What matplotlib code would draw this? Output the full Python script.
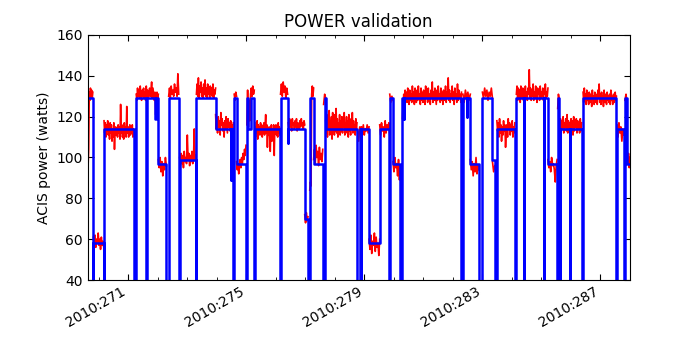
import numpy as np
import matplotlib
matplotlib.use('Agg')
import matplotlib.pyplot as plt
from matplotlib.ticker import FixedLocator, MultipleLocator, FuncFormatter

# model prediction: step levels (watts), each starting at the given day of 2010
model_days = [269.64, 269.80, 269.82, 270.17, 270.18, 271.20, 271.27, 271.61, 271.63,
              271.92, 271.93, 272.02, 272.29, 272.37, 272.71, 272.74, 273.29, 273.31,
              273.96, 274.47, 274.48, 274.56, 274.59, 274.67, 274.99, 275.03, 275.05,
              275.16, 275.27, 275.29, 276.14, 276.16, 276.40, 276.42, 276.98, 277.09,
              277.15, 277.16, 277.28, 277.59, 277.66, 277.69, 278.75, 278.84, 278.88,
              278.90, 279.16, 279.52, 279.85, 279.86, 279.97, 280.22, 280.29, 280.33,
              280.34, 282.29, 282.34, 282.48, 282.49, 282.59, 282.88, 283.00, 283.34,
              283.42, 283.49, 284.10, 284.15, 284.41, 284.42, 285.08, 285.09, 285.22,
              285.53, 285.55, 285.58, 285.62, 285.63, 285.96, 285.97, 286.36, 286.41,
              287.54, 287.56, 287.79, 287.83, 287.90, 288.00]
model_power = [129, 30, 58, 30, 114, 30, 129, 30, 129,
               119, 129, 97, 30, 129, 30, 99, 30, 129,
               114, 89, 114, 30, 129, 97, 30, 129, 114,
               129, 30, 114, 30, 129, 107, 114, 70, 30,
               84, 129, 97, 30, 129, 114, 30, 114, 30,
               114, 58, 114, 30, 129, 97, 30, 129, 119,
               129, 30, 129, 120, 129, 97, 30, 129, 99,
               30, 114, 30, 129, 30, 129, 30, 129, 97,
               30, 129, 114, 30, 114, 30, 114, 30, 129,
               30, 114, 30, 129, 97, 97]

# telemetry: contiguous stretches (start day, end day) and the samples in each
tlm_spans = [(269.64, 269.80), (269.82, 270.17), (270.18, 271.20), (271.27, 272.02),
             (272.02, 272.29), (272.37, 272.71), (272.74, 273.29), (273.31, 273.96),
             (273.96, 274.56), (274.59, 274.67), (274.67, 274.99), (275.02, 275.27),
             (275.29, 276.14), (276.16, 276.40), (276.42, 276.98), (276.98, 277.09),
             (277.15, 277.28), (277.28, 277.59), (277.62, 277.69), (277.69, 278.75),
             (278.77, 278.88), (278.90, 279.16), (279.16, 279.52), (279.52, 279.86),
             (279.86, 279.97), (279.97, 280.22), (280.29, 282.29), (282.34, 282.59),
             (282.59, 282.88), (283.00, 283.34), (283.34, 283.42), (283.49, 284.10),
             (284.15, 285.22), (285.22, 285.53), (285.55, 285.60), (285.60, 286.36),
             (286.41, 287.54), (287.56, 287.79), (287.83, 287.90), (287.90, 288.00)]
tlm_power = [
    [96, 104, 132, 128, 134, 130, 133, 129, 132],
    [61, 57, 62, 56, 60, 58, 63, 57, 60, 55, 61, 57, 59, 56],
    [118, 112, 117, 110, 116, 113, 118, 111, 115, 109, 117, 112, 116, 108, 114, 110,
     117, 104, 113, 115, 111, 114, 110, 116, 112, 115, 109, 126, 112, 116, 110, 114,
     109, 117, 112, 115, 110, 125, 112, 115, 110, 113, 116, 111, 115, 112, 116, 110,
     114, 113],
    [131, 128, 134, 130, 133, 129, 135, 131, 128, 133, 130, 134, 129, 132, 128, 135,
     130, 133, 129, 131, 134, 130, 133, 137, 129, 134, 131, 128, 132, 121, 127, 132,
     129, 131],
    [99, 95, 100, 93, 98, 91, 97, 94, 100, 96],
    [130, 134, 129, 135, 131, 133, 130, 136, 132, 134, 130, 141, 131],
    [100, 96, 102, 97, 101, 95, 103, 98, 100, 97, 111, 99, 102, 96, 101, 98, 103, 97,
     100, 114, 99, 101],
    [131, 136, 130, 139, 129, 135, 132, 137, 130, 134, 129, 136, 131, 138, 130, 134,
     129, 136, 131, 133, 129, 135, 131, 134, 130, 136, 129, 133, 131, 134],
    [121, 114, 119, 112, 120, 115, 118, 111, 122, 116, 119, 113, 117, 110, 118, 114,
     120, 116, 112, 119, 115, 117, 113, 118, 111, 116, 114, 117],
    [131, 128, 132, 130],
    [98, 94, 97, 92, 96, 99, 95, 100, 97, 102, 99, 104, 101, 106],
    [116, 133, 115, 128, 118, 131, 134, 130, 135, 131, 133],
    [117, 110, 115, 112, 118, 109, 116, 113, 115, 111, 117, 112, 116, 110, 114, 112,
     117, 111, 116, 121, 112, 116, 105, 114, 111, 115, 110, 103, 113, 116, 108, 114,
     110, 116, 101, 115, 112, 116, 111, 114, 110, 117, 112, 115, 111],
    [131, 136, 130, 137, 132, 135, 129, 134, 131],
    [117, 114, 119, 115, 118, 113, 119, 116, 117, 114, 118, 115, 119, 113, 117, 116,
     114, 118, 115, 119, 116, 117, 114, 118, 116],
    [72, 68, 73, 69, 71],
    [84, 88, 86, 131, 135, 130, 134],
    [99, 104, 97, 106, 100, 103, 96, 105, 99, 102, 98, 104],
    [126, 131, 129],
    [118, 112, 121, 110, 119, 114, 123, 111, 117, 113, 120, 109, 122, 115, 118, 111,
     121, 113, 124, 112, 119, 110, 117, 114, 121, 111, 118, 113, 120, 112, 119, 115,
     122, 111, 117, 114, 120, 112, 118, 110, 121, 113, 117, 111, 119, 114, 122, 112,
     118, 113, 116, 111, 119, 114, 117],
    [113, 108, 115, 111],
    [115, 112, 116, 111, 114, 113, 116, 112, 115],
    [60, 55, 62, 53, 59, 57, 63, 54, 61, 56, 58, 52, 60],
    [116, 111, 117, 113, 115, 110, 118, 112, 116, 114, 117, 111],
    [131, 127, 130, 128],
    [98, 93, 100, 95, 97, 91, 99, 89, 96],
    [119, 126, 131, 125, 133, 128, 132, 127, 134, 129, 126, 133, 128, 131, 127, 135,
     129, 132, 126, 134, 130, 127, 133, 128, 135, 129, 131, 126, 134, 128, 132, 127,
     133, 130, 126, 135, 129, 132, 127, 134, 128, 131, 126, 133, 129, 137, 127, 132,
     128, 134, 130, 126, 133, 128, 135, 129, 131, 127, 134, 128, 132, 126, 133, 130,
     128, 135, 127, 132, 129, 139, 128, 133, 127, 131, 129, 135, 128, 132, 126, 134,
     129, 131, 127, 136, 128, 133, 129, 131, 127, 132],
    [131, 127, 133, 129, 132, 128, 131],
    [99, 94, 98, 91, 97, 93, 100, 92, 96, 94],
    [132, 129, 134, 130, 133, 128, 132, 130, 134, 129],
    [98, 93, 96],
    [118, 113, 117, 110, 119, 112, 116, 108, 115, 111, 118, 113, 116, 105, 112, 116,
     110, 119, 114, 117, 111, 116, 113, 118, 110, 115, 112, 117],
    [131, 135, 128, 134, 130, 133, 127, 135, 131, 129, 134, 128, 133, 130, 135, 129,
     132, 128, 134, 131, 143, 129, 134, 128, 133, 130, 136, 128, 132, 129, 135, 130,
     127, 134, 131, 133, 128, 135, 129, 132, 130, 134, 128, 133, 131, 136, 129, 132,
     130, 134],
    [99, 95, 98, 93, 100, 96, 97, 94, 88, 96, 99],
    [124, 131, 129],
    [117, 113, 119, 112, 118, 114, 120, 112, 117, 115, 119, 113, 121, 112, 118, 114,
     117, 112, 119, 114, 118, 111, 120, 113, 117, 115, 119, 112, 118, 114, 116, 112,
     119, 113, 117],
    [132, 127, 134, 128, 131, 126, 133, 128, 130, 126, 132, 127, 131, 129, 125, 133,
     128, 130, 126, 132, 127, 131, 128, 126, 133, 129, 136, 127, 131, 126, 132, 128,
     130, 125, 133, 127, 131, 129, 126, 132, 128, 130, 127, 131, 126, 133, 128, 130,
     126, 131, 129, 127, 132, 128, 130],
    [116, 110, 117, 112, 115, 108, 114, 111],
    [128, 131, 126],
    [104, 97, 102, 95, 100],
]

year_ticks = [271, 275, 279, 283, 287]

plt.rcParams['xtick.direction'] = 'in'
plt.rcParams['ytick.direction'] = 'in'
plt.rcParams['xtick.top'] = True
plt.rcParams['ytick.right'] = True
plt.rcParams['xtick.major.size'] = 4
plt.rcParams['ytick.major.size'] = 4
plt.rcParams['xtick.minor.size'] = 2
plt.rcParams['ytick.minor.size'] = 2
plt.rcParams['font.size'] = 10

# telemetry as one line with gaps between stretches
tlm_t, tlm_v = [], []
for (t0, t1), vals in zip(tlm_spans, tlm_power):
    tlm_t.extend(np.linspace(t0, t1, len(vals)))
    tlm_v.extend(vals)
    tlm_t.append(np.nan)
    tlm_v.append(np.nan)

fig = plt.figure(figsize=(7, 3.5), dpi=100)
ax = fig.add_subplot(111)
ax.plot(tlm_t, tlm_v, '-r', lw=1.2)
ax.plot(model_days, model_power, '-b', lw=1.8, drawstyle='steps-post')

ax.set_xlim(269.62, 288.0)
ax.set_ylim(40, 160)
ax.xaxis.set_major_locator(FixedLocator(year_ticks))
ax.xaxis.set_minor_locator(MultipleLocator(1))
ax.xaxis.set_major_formatter(FuncFormatter(lambda x, pos: '2010:%03d' % round(x)))
ax.set_yticks(range(40, 161, 20))
for lab in ax.get_xticklabels():
    lab.set_rotation(30)
    lab.set_ha('right')

ax.set_title('POWER validation', fontsize=12)
ax.set_ylabel('ACIS power (watts)')
fig.subplots_adjust(left=0.125, right=0.9, bottom=0.2, top=0.9)
fig.savefig('out.png', dpi=100, facecolor='white')
